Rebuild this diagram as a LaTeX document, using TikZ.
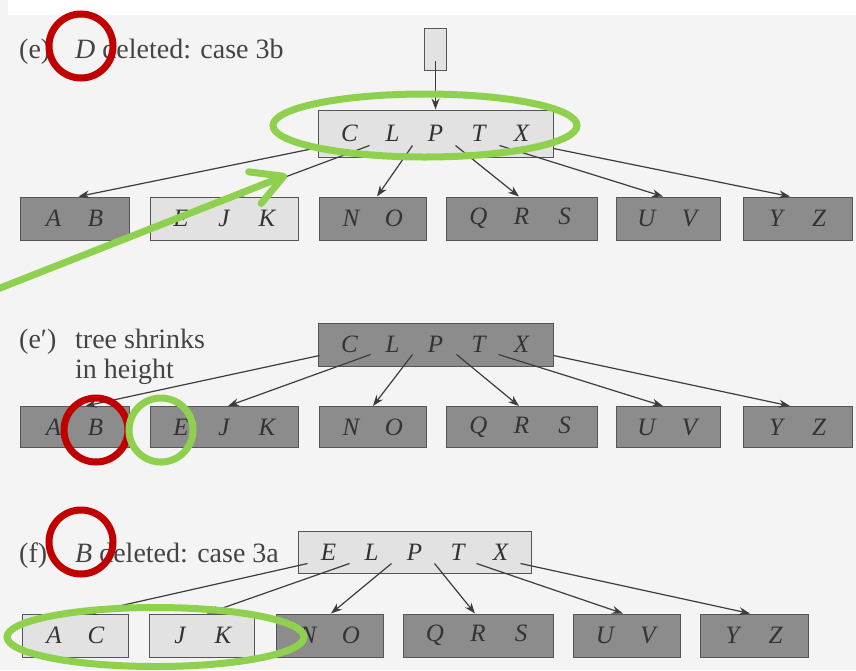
\documentclass[tikz,border=0pt]{standalone}
\usepackage{fontspec}
\setmainfont{Liberation Serif}
\usetikzlibrary{arrows.meta,calc}

\definecolor{paper}{HTML}{F4F4F4}
\definecolor{darkfill}{HTML}{8C8C8C}
\definecolor{lightfill}{HTML}{E2E2E2}
\definecolor{boxedge}{HTML}{555555}
\definecolor{keyink}{HTML}{333333}
\definecolor{ptrink}{HTML}{3C3C3C}
\definecolor{labelink}{HTML}{444444}
\definecolor{markred}{HTML}{C00000}
\definecolor{markgreen}{HTML}{8FD14F}

% one key slot inside a B-tree node
\newcommand\keyslot[1]{\makebox[43pt]{#1}}

\tikzset{
  keybox/.style={draw=boxedge, line width=1pt, inner sep=0pt,
    font=\fontsize{25}{25}\selectfont\itshape, text=keyink},
  darkbox/.style={keybox, fill=darkfill},
  lightbox/.style={keybox, fill=lightfill},
  ptr/.style={draw=ptrink, line width=1.2pt, -{Stealth[length=11pt,width=8pt]}},
  lbl/.style={inner sep=0pt, anchor=base west, text=labelink,
    font=\fontsize{28}{30}\selectfont},
  redring/.style={draw=markred, line width=7pt, circle, minimum size=64pt, inner sep=0pt},
  greenring/.style={draw=markgreen, line width=7pt},
  greenarrow/.style={draw=markgreen, line width=7pt, line cap=round,
    -{Straight Barb[length=31pt,width=34pt,round]}}
}

\begin{document}
\begin{tikzpicture}[x=1pt,y=-1pt]
\useasboundingbox (0,0) rectangle (856,670);
\fill[paper] (0,0) rectangle (856,670);
\fill[white] (8,0) rectangle (856,15);

% ---------- (e) D deleted: case 3b ----------
\node[lbl] (le) at (19,58) {(e)};
\node[lbl] (lete) at (75,58) {\textit{D} deleted: case 3b};

\node[lightbox, minimum width=22pt, minimum height=42pt] (root) at (435.5,49) {};
\node[lightbox, minimum width=235pt, minimum height=47pt] (ta) at (435.5,133.5)
  {\keyslot{C}\keyslot{L}\keyslot{P}\keyslot{T}\keyslot{X}};

\node[darkbox,  minimum width=109pt, minimum height=43pt] (a1) at (74.5,218.5) {\makebox[42pt]{A}\makebox[42pt]{B}};
\node[lightbox, minimum width=148pt, minimum height=43pt] (a2) at (224,218.5) {\keyslot{E}\keyslot{J}\keyslot{K}};
\node[darkbox,  minimum width=107pt, minimum height=43pt] (a3) at (372.5,218.5) {\keyslot{N}\keyslot{O}};
\node[darkbox,  minimum width=151pt, minimum height=43pt] (a4) at (521.5,218.5) {\keyslot{Q}\keyslot{R}\keyslot{S}};
\node[darkbox,  minimum width=104pt, minimum height=43pt] (a5) at (668,218.5) {\keyslot{U}\keyslot{V}};
\node[darkbox,  minimum width=109pt, minimum height=43pt] (a6) at (797.5,218.5) {\keyslot{Y}\keyslot{Z}};

\draw[ptr] ($(root.south)+(0,-10)$) -- (ta.north);
\draw[ptr] ($(ta.south west)+(1,-10)$) -- ($(a1.north)+(4,0)$);
\draw[ptr] ($(ta.south west)+(52,-12)$) -- ($(a2.north)+(9,0)$);
\draw[ptr] ($(ta.south west)+(95,-12)$) -- ($(a3.north)+(4.5,0)$);
\draw[ptr] ($(ta.south west)+(138,-12)$) -- ($(a4.north)+(-2.5,0)$);
\draw[ptr] ($(ta.south west)+(182,-12)$) -- ($(a5.north)+(-5,0)$);
\draw[ptr] ($(ta.south east)+(0,-9)$) -- ($(a6.north)+(-7.5,0)$);

% ---------- (e') tree shrinks in height ----------
\node[lbl] (lf) at (19,348) {(e′)};
\node[lbl] (lft1) at (75,348) {tree shrinks};
\node[lbl] (lft2) at (75,378) {in height};

\node[darkbox, minimum width=235pt, minimum height=43pt] (tb) at (435.5,344.5)
  {\keyslot{C}\keyslot{L}\keyslot{P}\keyslot{T}\keyslot{X}};

\node[darkbox, minimum width=109pt, minimum height=41pt] (b1) at (74.5,427) {\makebox[42pt]{A}\makebox[42pt]{B}};
\node[darkbox, minimum width=148pt, minimum height=41pt] (b2) at (224,427) {\keyslot{E}\keyslot{J}\keyslot{K}};
\node[darkbox, minimum width=107pt, minimum height=41pt] (b3) at (372.5,427) {\keyslot{N}\keyslot{O}};
\node[darkbox, minimum width=151pt, minimum height=41pt] (b4) at (521.5,427) {\keyslot{Q}\keyslot{R}\keyslot{S}};
\node[darkbox, minimum width=104pt, minimum height=41pt] (b5) at (668,427) {\keyslot{U}\keyslot{V}};
\node[darkbox, minimum width=109pt, minimum height=41pt] (b6) at (797.5,427) {\keyslot{Y}\keyslot{Z}};

\draw[ptr] ($(tb.south west)+(2,-11)$) -- ($(b1.north)+(11,0)$);
\draw[ptr] ($(tb.south west)+(53,-12)$) -- ($(b2.north)+(4,0)$);
\draw[ptr] ($(tb.south west)+(95,-12)$) -- ($(b3.north)+(0.5,0)$);
\draw[ptr] ($(tb.south west)+(139,-12)$) -- ($(b4.north)+(-2.5,0)$);
\draw[ptr] ($(tb.south west)+(181,-12)$) -- ($(b5.north)+(-5,0)$);
\draw[ptr] ($(tb.south east)+(0,-11)$) -- ($(b6.north)+(-7.5,0)$);

% ---------- (f) B deleted: case 3a ----------
\node[lbl] (lg) at (19,562) {(f)};
\node[lbl] (lgt) at (75,562) {\textit{B} deleted: case 3a};

\node[lightbox, minimum width=233pt, minimum height=42pt] (tc) at (414.5,552)
  {\keyslot{E}\keyslot{L}\keyslot{P}\keyslot{T}\keyslot{X}};

\node[lightbox, minimum width=106pt, minimum height=43pt] (c1) at (75,635.5) {\makebox[42pt]{A}\makebox[42pt]{C}};
\node[lightbox, minimum width=105pt, minimum height=43pt] (c2) at (201.5,635.5) {\keyslot{J}\keyslot{K}};
\node[darkbox,  minimum width=107pt, minimum height=43pt] (c3) at (329.5,635.5) {\keyslot{N}\keyslot{O}};
\node[darkbox,  minimum width=150pt, minimum height=43pt] (c4) at (478,635.5) {\keyslot{Q}\keyslot{R}\keyslot{S}};
\node[darkbox,  minimum width=107pt, minimum height=43pt] (c5) at (626.5,635.5) {\keyslot{U}\keyslot{V}};
\node[darkbox,  minimum width=108pt, minimum height=43pt] (c6) at (754,635.5) {\keyslot{Y}\keyslot{Z}};

\draw[ptr] ($(tc.south west)+(10,-10)$) -- ($(c1.north)+(11,0)$);
\draw[ptr] ($(tc.south west)+(52,-10)$) -- ($(c2.north)+(5.5,0)$);
\draw[ptr] ($(tc.south west)+(94,-10)$) -- ($(c3.north)+(1.5,0)$);
\draw[ptr] ($(tc.south west)+(137,-10)$) -- ($(c4.north)+(-3,0)$);
\draw[ptr] ($(tc.south west)+(179,-10)$) -- ($(c5.north)+(-3.5,0)$);
\draw[ptr] ($(tc.south east)+(-11,-10)$) -- ($(c6.north)+(-4,0)$);

% ---------- highlight marks ----------
\node[redring] (ringD) at (81,46) {};
\draw[greenring] (425,125.5) ellipse [x radius=152, y radius=31.5];
\coordinate (gtail) at (-10,292);
\coordinate (ghead) at (287,175);
\draw[greenarrow] (gtail) -- (ghead);

\node[redring] (ringB1) at (96,430) {};
\node[redring, draw=markgreen] (ringE) at (161,430) {};

\node[redring] (ringB2) at (81,542) {};
\draw[greenring] (155.5,637) ellipse [x radius=148.5, y radius=29.5];
\end{tikzpicture}
\end{document}
